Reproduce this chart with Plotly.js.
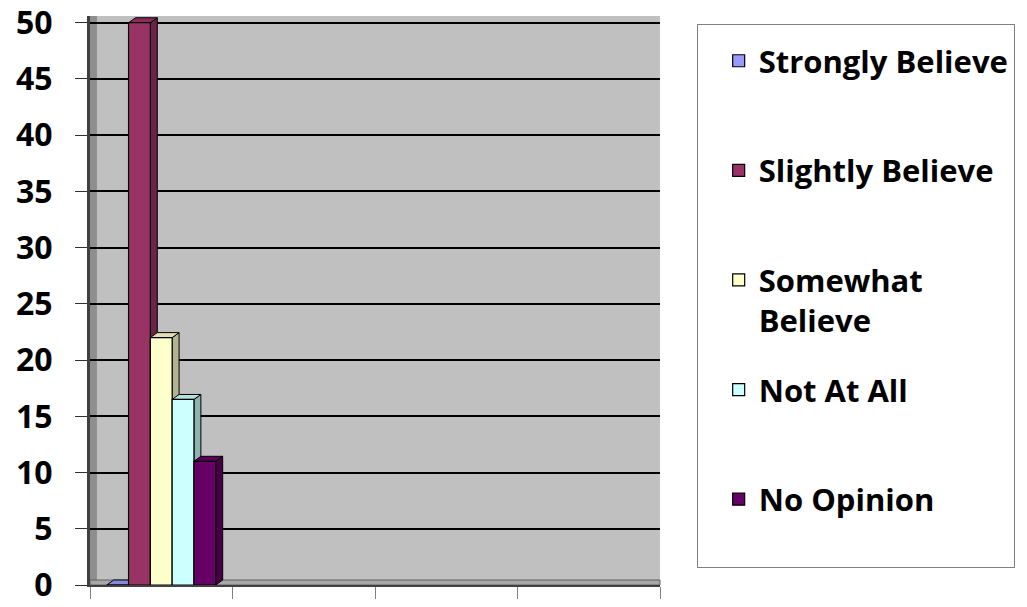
<!DOCTYPE html>
<html>
<head>
<meta charset="utf-8">
<script src="https://cdn.plot.ly/plotly-3.0.1.min.js"></script>
<style>html,body{margin:0;padding:0;background:#fff;}#chart{width:1027px;height:607px;}</style>
</head>
<body>
<div id="chart"></div>
<script>
// Data
const categories = ["1", "2", "3", "4"];
const seriesNames = ["Strongly Believe", "Slightly Believe", "Somewhat<br>Believe", "Not At All", "No Opinion"];
const stronglyBelieve = [0];
const slightlyBelieve = [50];
const somewhatBelieve = [22];
const notAtAll = [16.5];
const noOpinion = [11];
const yTicks = [0, 5, 10, 15, 20, 25, 30, 35, 40, 45, 50];

const seriesValues = [stronglyBelieve, slightlyBelieve, somewhatBelieve, notAtAll, noOpinion];
const seriesColors = ["#9999FF", "#993366", "#FFFFCC", "#CCFFFF", "#660066"];

// geometry / style settings
const W = 1027, H = 607;
const M = { l: 90, r: 362, t: 16, b: 22 };
const yRange = [0, 50.6];
const barGap = 0.235;
const depthPx = { x: 7, y: 5 };

function shade(hex, f) {
  const n = parseInt(hex.slice(1), 16);
  const r = Math.round(((n >> 16) & 255) * f);
  const g = Math.round(((n >> 8) & 255) * f);
  const b = Math.round((n & 255) * f);
  return "rgb(" + r + "," + g + "," + b + ")";
}

const traces = seriesValues.map((vals, i) => ({
  type: "bar",
  name: seriesNames[i] + (seriesNames[i].includes("<br>") ? "" : "<br>&nbsp;"),
  legendgroup: "g" + i,
  x: categories.slice(0, vals.length),
  y: vals,
  marker: { color: seriesColors[i], line: { color: "#000000", width: 1.2 } },
  hoverinfo: "y+name"
}));

// 3-D look: side and top faces derived from the data values and the bar layout
const plotW = W - M.l - M.r, plotH = H - M.t - M.b;
const pxPerCat = plotW / categories.length;
const pxPerUnit = plotH / (yRange[1] - yRange[0]);
const dx = depthPx.x / pxPerCat, dy = depthPx.y / pxPerUnit;
const groupW = 1 - barGap, bw = groupW / seriesValues.length;
const shapes = [];
// left wall and floor
shapes.push({ type: "rect", xref: "paper", yref: "paper", x0: 0, x1: depthPx.x / plotW, y0: 0, y1: 1,
  fillcolor: "#8E8E8E", line: { width: 0 }, layer: "between" });
shapes.push({ type: "rect", xref: "paper", yref: "paper", x0: 0, x1: 1, y0: 0, y1: depthPx.y / plotH,
  fillcolor: "#A8A8A8", line: { color: "#606060", width: 1 }, layer: "between" });
seriesValues.forEach((vals, i) => {
  vals.forEach((v, c) => {
    const left = c - groupW / 2 + i * bw, right = left + bw;
    const side = "M" + right + "," + 0 + " L" + right + "," + v + " L" + (right + dx) + "," + (v + dy) +
      " L" + (right + dx) + "," + dy + " Z";
    const top = "M" + left + "," + v + " L" + right + "," + v + " L" + (right + dx) + "," + (v + dy) +
      " L" + (left + dx) + "," + (v + dy) + " Z";
    shapes.push({ type: "path", xref: "x", yref: "y", path: side, fillcolor: shade(seriesColors[i], 0.7),
      line: { color: "#000000", width: 1 }, layer: "between" });
    shapes.push({ type: "path", xref: "x", yref: "y", path: top, fillcolor: shade(seriesColors[i], 0.88),
      line: { color: "#000000", width: 1 }, layer: "between" });
  });
});

const layout = {
  width: W,
  height: H,
  margin: { l: M.l, r: M.r, t: M.t, b: M.b, pad: 0 },
  paper_bgcolor: "#FFFFFF",
  plot_bgcolor: "#C0C0C0",
  barmode: "group",
  bargap: barGap,
  bargroupgap: 0,
  font: { family: "Open Sans, sans-serif", color: "#000000" },
  shapes: shapes,
  xaxis: {
    type: "category",
    categoryorder: "array",
    categoryarray: categories,
    range: [-0.5, categories.length - 0.5],
    showticklabels: false,
    tickson: "boundaries",
    ticks: "outside",
    ticklen: 12,
    tickcolor: "#808080",
    tickwidth: 1,
    showgrid: false,
    showline: true,
    linecolor: "#404040",
    linewidth: 1.5,
    zeroline: false,
    fixedrange: true
  },
  yaxis: {
    range: yRange,
    tickvals: yTicks,
    ticks: "outside",
    ticklen: 12,
    tickcolor: "#303030",
    tickwidth: 1,
    ticklabelstandoff: 16,
    ticklabeloverflow: "allow",
    tickfont: { family: "Open Sans, sans-serif", size: 32, weight: "bold", color: "#000000" },
    showgrid: true,
    gridcolor: "#000000",
    gridwidth: 2,
    showline: true,
    linecolor: "#404040",
    linewidth: 3,
    zeroline: false,
    fixedrange: true
  },
  showlegend: true,
  legend: {
    x: (702 - M.l) / plotW,
    xanchor: "left",
    y: 1 - (24 - M.t) / plotH,
    yanchor: "top",
    bgcolor: "#FFFFFF",
    bordercolor: "#808080",
    borderwidth: 1,
    traceorder: "grouped",
    tracegroupgap: 26,
    valign: "top",
    indentation: 21,
    title: { text: "&nbsp;", font: { size: 7 } },
    font: { family: "Open Sans, sans-serif", size: 31, weight: "bold", color: "#000000" }
  }
};

Plotly.newPlot("chart", traces, layout, { displayModeBar: false, staticPlot: true });
</script>
</body>
</html>
